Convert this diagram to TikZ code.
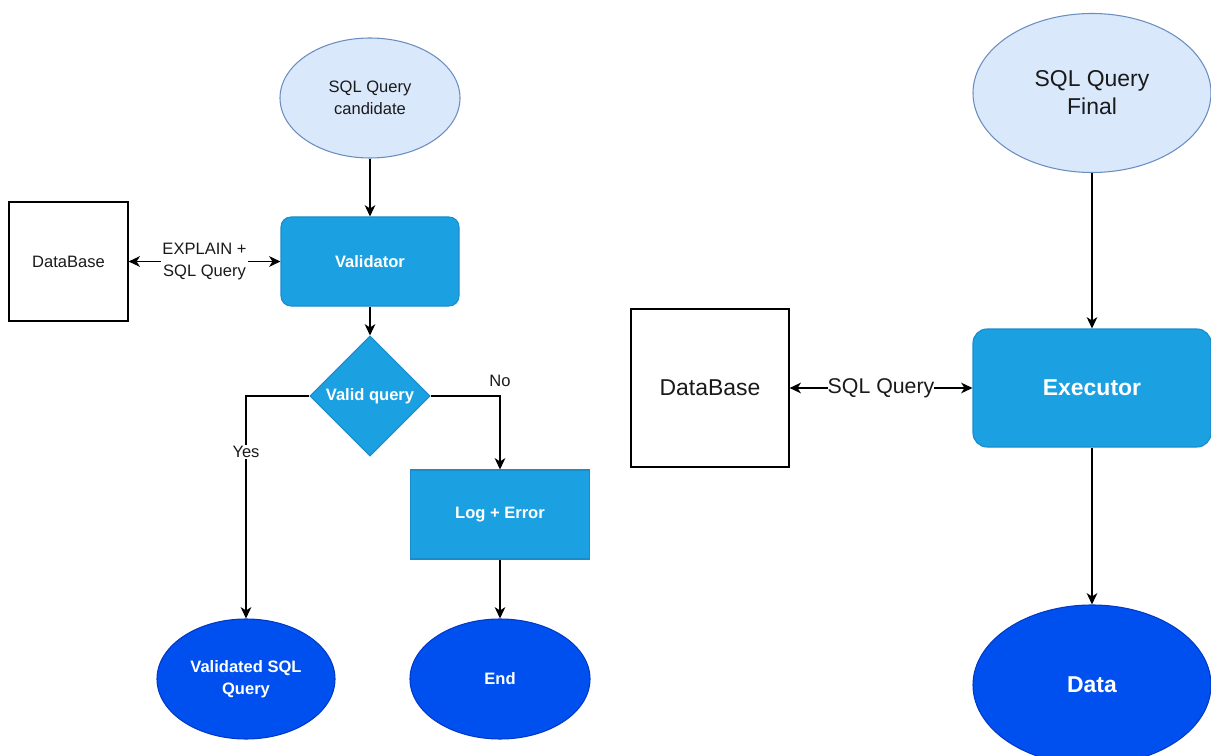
\documentclass[tikz,border=0pt]{standalone}
\usepackage{fontspec}
\setmainfont{Liberation Sans}
\usetikzlibrary{shapes.geometric,arrows.meta}
\definecolor{lbfill}{HTML}{DAE8FC}
\definecolor{lbline}{HTML}{6C8EBF}
\definecolor{mbfill}{HTML}{1BA1E2}
\definecolor{mbline}{HTML}{1A8CCB}
\definecolor{dbfill}{HTML}{0050EF}
\definecolor{dbline}{HTML}{0039C8}
\definecolor{txt}{HTML}{1A1A1A}
\tikzset{
  small/.style={font=\fontsize{12.4pt}{16.5pt}\selectfont},
  smallb/.style={font=\fontsize{12.4pt}{16.5pt}\selectfont\bfseries},
  big/.style={font=\fontsize{17.2pt}{21pt}\selectfont},
  bigb/.style={font=\fontsize{17.2pt}{21pt}\selectfont\bfseries},
  lightell/.style={ellipse, draw=lbline, fill=lbfill, line width=0.8pt, text=txt, align=center, inner sep=0pt},
  darkell/.style={ellipse, draw=dbline, fill=dbfill, line width=0.8pt, text=white, align=center, inner sep=0pt},
  proc/.style={rectangle, rounded corners=7.5pt, draw=mbline, fill=mbfill, line width=0.8pt, text=white, align=center, inner sep=0pt},
  sqproc/.style={rectangle, draw=mbline, fill=mbfill, line width=0.8pt, text=white, align=center, inner sep=0pt},
  dbbox/.style={rectangle, draw=black, fill=white, line width=0.9pt, text=txt, inner sep=0pt},
  decision/.style={diamond, draw=mbline, fill=mbfill, line width=0.8pt, text=white, inner sep=0pt, shape aspect=1},
  tip/.style={Stealth[length=8.5pt,width=8pt,inset=2.5pt]},
  conn/.style={draw=black, line width=1.1pt, -{Stealth[length=8.5pt,width=8pt,inset=2.5pt]}},
  bconn/.style={draw=black, line width=1.1pt, {Stealth[length=8.5pt,width=8pt,inset=2.5pt]}-{Stealth[length=8.5pt,width=8pt,inset=2.5pt]}},
  lab/.style={fill=white, inner sep=1pt, text=txt, align=center}
}
\begin{document}
\begin{tikzpicture}[x=0.75pt,y=-0.75pt]
\useasboundingbox (0,0) rectangle (1211,756);
% left part
\node[lightell, small, minimum width=135pt, minimum height=90pt] (cand) at (370,98) {SQL Query\\candidate};
\node[proc, smallb, minimum width=133.5pt, minimum height=66.75pt] (val) at (370,261.5) {Validator};
\node[dbbox, small, minimum width=89.25pt, minimum height=89.25pt] (db1) at (68.5,261.5) {DataBase};
\node[decision, smallb, minimum width=90pt, minimum height=90pt] (vq) at (370,396) {Valid query};
\node[sqproc, smallb, minimum width=134.25pt, minimum height=66.75pt] (log) at (500,514.5) {Log + Error};
\node[darkell, smallb, minimum width=133.5pt, minimum height=90pt] (vsq) at (246,679) {Validated SQL\\Query};
\node[darkell, smallb, minimum width=135pt, minimum height=90pt] (end) at (500,679) {End};
% right part
\node[lightell, big, minimum width=178.5pt, minimum height=119.25pt] (fin) at (1092,93) {SQL Query\\Final};
\node[proc, bigb, rounded corners=10.5pt, minimum width=178.5pt, minimum height=88.5pt] (exe) at (1092,388) {Executor};
\node[dbbox, big, minimum width=118.5pt, minimum height=118.5pt] (db2) at (710,388) {DataBase};
\node[darkell, bigb, minimum width=178.5pt, minimum height=120pt] (data) at (1092,685) {Data};
% connectors left
\draw[conn] (cand.south) -- (val.north);
\draw[conn] (val.south) -- (vq.north);
\draw[bconn] (db1.east) -- node[lab, small] {EXPLAIN +\\SQL Query} (val.west);
\draw[conn] (vq.west) -| node[pos=0.625, lab, small] {Yes} (vsq.north);
\draw[conn] (vq.east) -| node[pos=0.5, above=3pt, small, text=txt] {No} (log.north);
\draw[conn] (log.south) -- (end.north);
% connectors right
\draw[conn] (fin.south) -- (exe.north);
\draw[conn] (exe.south) -- (data.north);
\draw[bconn] (db2.east) -- node[lab, inner sep=0pt, font=\fontsize{16pt}{20pt}\selectfont] {SQL Query} (exe.west);
\end{tikzpicture}
\end{document}
